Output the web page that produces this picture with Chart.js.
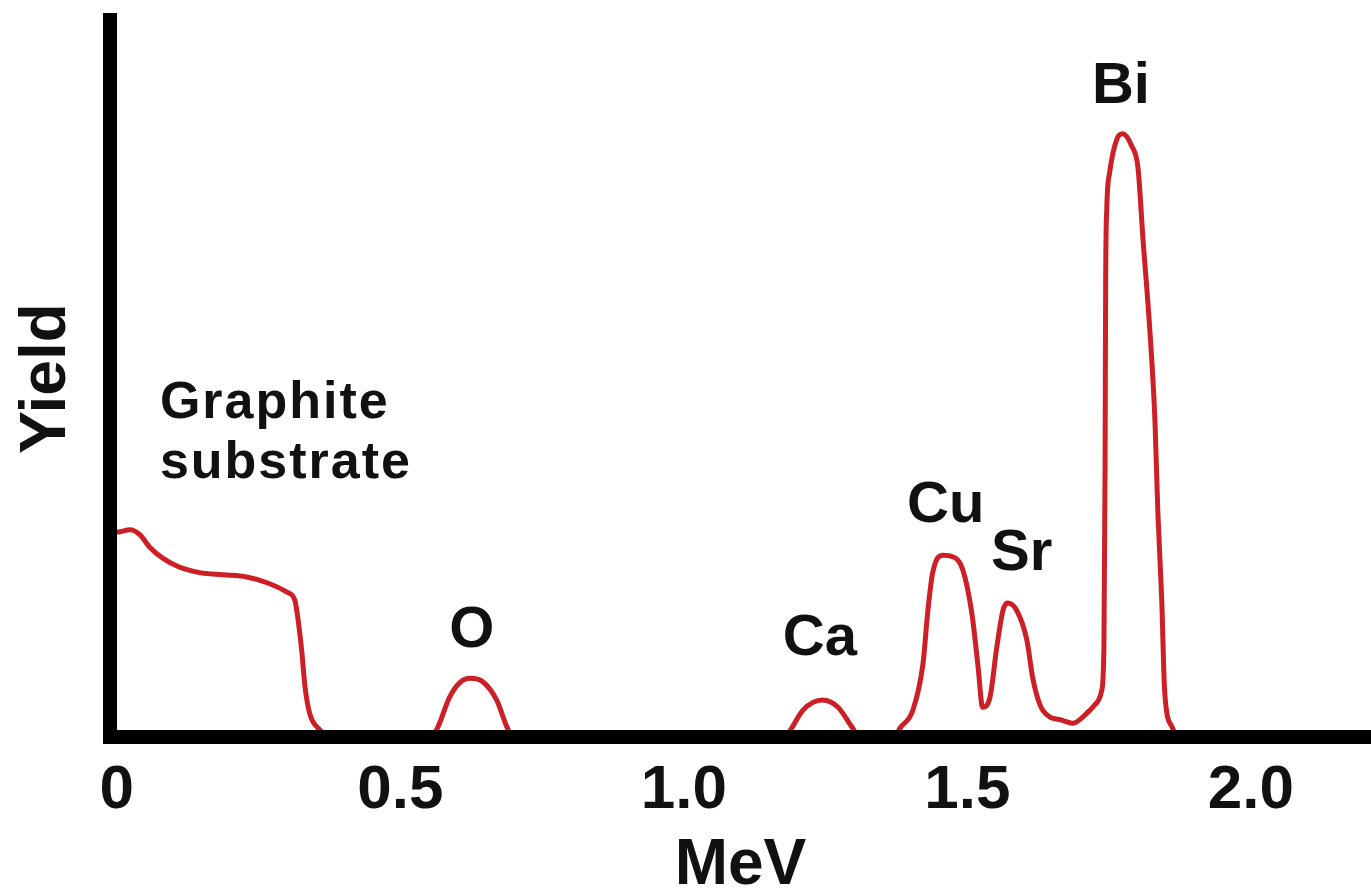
<!DOCTYPE html>
<html>
<head>
<meta charset="utf-8">
<script src="https://cdn.jsdelivr.net/npm/chart.js@4"></script>
<style>
  html, body { margin: 0; padding: 0; background: #fff; }
  #wrap { width: 1371px; height: 889px; position: relative; }
</style>
</head>
<body>
<div id="wrap"><canvas id="spectrum"></canvas></div>
<script>
// spectrum (energy in MeV, yield in arbitrary units)
var energy = [
  -0.010, 0.002, 0.023, 0.041, 0.058, 0.081, 0.109, 0.146, 0.187, 0.229, 0.265, 0.300, 0.314, 0.319, 0.326, 0.332, 0.340, 0.358, 0.376,
  0.552, 0.564, 0.587, 0.605, 0.623, 0.646, 0.670, 0.688, 0.698,
  1.178, 1.190, 1.210, 1.245, 1.272, 1.298, 1.310,
  1.372, 1.381, 1.404, 1.422, 1.430, 1.439, 1.457, 1.474, 1.492, 1.508, 1.519, 1.527,
  1.540, 1.552, 1.563, 1.571, 1.587, 1.605, 1.616, 1.633, 1.668, 1.686, 1.711, 1.728,
  1.737, 1.741, 1.743, 1.744, 1.746, 1.751, 1.764, 1.774, 1.790, 1.801, 1.810, 1.822, 1.831, 1.836, 1.843, 1.848, 1.861, 1.875,
  2.212
];
var yieldValues = [
  28.3, 28.3, 28.6, 27.9, 26.2, 24.7, 23.5, 22.7, 22.4, 22.1, 21.3, 20.0, 18.9, 16.6, 12.0, 6.9, 3.3, 1.0, 0,
  0, 1.0, 5.5, 7.5, 8.1, 7.6, 5.1, 1.4, 0,
  0, 1.2, 3.7, 5.1, 4.1, 1.2, 0,
  0, 1.2, 3.7, 10.2, 17.1, 22.7, 25.1, 24.9, 23.1, 17.1, 9.7, 4.1,
  5.5, 12.4, 17.5, 18.5, 17.5, 13.4, 7.9, 3.7, 2.3, 1.9, 3.3, 4.7,
  6.4, 12.6, 37.4, 62.4, 72.9, 77.9, 82.6, 83.3, 81.6, 78.6, 68.6, 56.1, 43.6, 31.2, 18.8, 6.4, 1.4, 0,
  0
];
var tickValues = [0, 0.5, 1.0, 1.5, 2.0];
var tickLabels = ['0', '0.5', '1.0', '1.5', '2.0'];

// peak names and where they sit (MeV, yield at text baseline)
var peakNames = ['O', 'Ca', 'Cu', 'Sr', 'Bi'];
var peakAt = [[0.626, 12.4], [1.240, 11.3], [1.462, 29.7], [1.596, 23.1], [1.771, 87.6]];
var substrateText = ['Graphite', 'substrate'];

var points = [];
for (var i = 0; i < energy.length; i++) {
  points.push({x: energy[i], y: yieldValues[i]});
}

var FONT = '"Liberation Sans", Arial, sans-serif';

var peakLabelPlugin = {
  id: 'peakLabels',
  afterDatasetsDraw: function(chart) {
    var ctx = chart.ctx;
    var xs = chart.scales.x, ys = chart.scales.y;
    ctx.save();
    ctx.fillStyle = '#111';
    ctx.textBaseline = 'alphabetic';
    ctx.font = 'bold 58px ' + FONT;
    ctx.textAlign = 'center';
    for (var i = 0; i < peakNames.length; i++) {
      ctx.fillText(peakNames[i], xs.getPixelForValue(peakAt[i][0]), ys.getPixelForValue(peakAt[i][1]));
    }
    ctx.font = 'bold 52px ' + FONT;
    ctx.letterSpacing = '2px';
    ctx.textAlign = 'left';
    ctx.fillText(substrateText[0], xs.getPixelForValue(0.076), ys.getPixelForValue(44.1));
    ctx.fillText(substrateText[1], xs.getPixelForValue(0.076), ys.getPixelForValue(35.8));
    ctx.restore();
  }
};

new Chart(document.getElementById('spectrum'), {
  type: 'line',
  data: {
    datasets: [{
      data: points,
      borderColor: '#cc1f26',
      borderWidth: 5,
      pointRadius: 0,
      fill: false,
      cubicInterpolationMode: 'monotone'
    }]
  },
  options: {
    responsive: true,
    maintainAspectRatio: false,
    animation: false,
    layout: { padding: { top: 20, right: 0, left: 0, bottom: 0 } },
    plugins: {
      legend: { display: false },
      tooltip: { enabled: false }
    },
    scales: {
      x: {
        type: 'linear',
        min: -0.012,
        max: 2.212,
        grid: { display: false, drawTicks: false },
        border: { display: true, color: '#000', width: 14, z: 1 },
        afterBuildTicks: function(scale) {
          scale.ticks = tickValues.map(function(v) { return {value: v}; });
        },
        afterFit: function(scale) { scale.height = 152; },
        ticks: {
          padding: 17,
          color: '#111',
          font: { family: FONT, size: 62, weight: 'bold' },
          maxRotation: 0,
          autoSkip: false,
          callback: function(value) {
            var k = tickValues.indexOf(value);
            return k >= 0 ? tickLabels[k] : '';
          }
        },
        title: {
          display: true,
          text: 'MeV',
          color: '#111',
          font: { family: FONT, size: 64, weight: 'bold', lineHeight: 0.7 },
          padding: { top: 0, bottom: 0 }
        }
      },
      y: {
        min: 0,
        max: 99,
        grid: { display: false, drawTicks: false },
        border: { display: true, color: '#000', width: 14, z: 1 },
        ticks: { display: false },
        afterFit: function(scale) { scale.width = 110; },
        title: {
          display: true,
          text: 'Yield',
          color: '#111',
          font: { family: FONT, size: 64, weight: 'bold', lineHeight: 1.0 },
          padding: { top: 15, bottom: 0 }
        }
      }
    }
  },
  plugins: [peakLabelPlugin]
});
</script>
</body>
</html>
